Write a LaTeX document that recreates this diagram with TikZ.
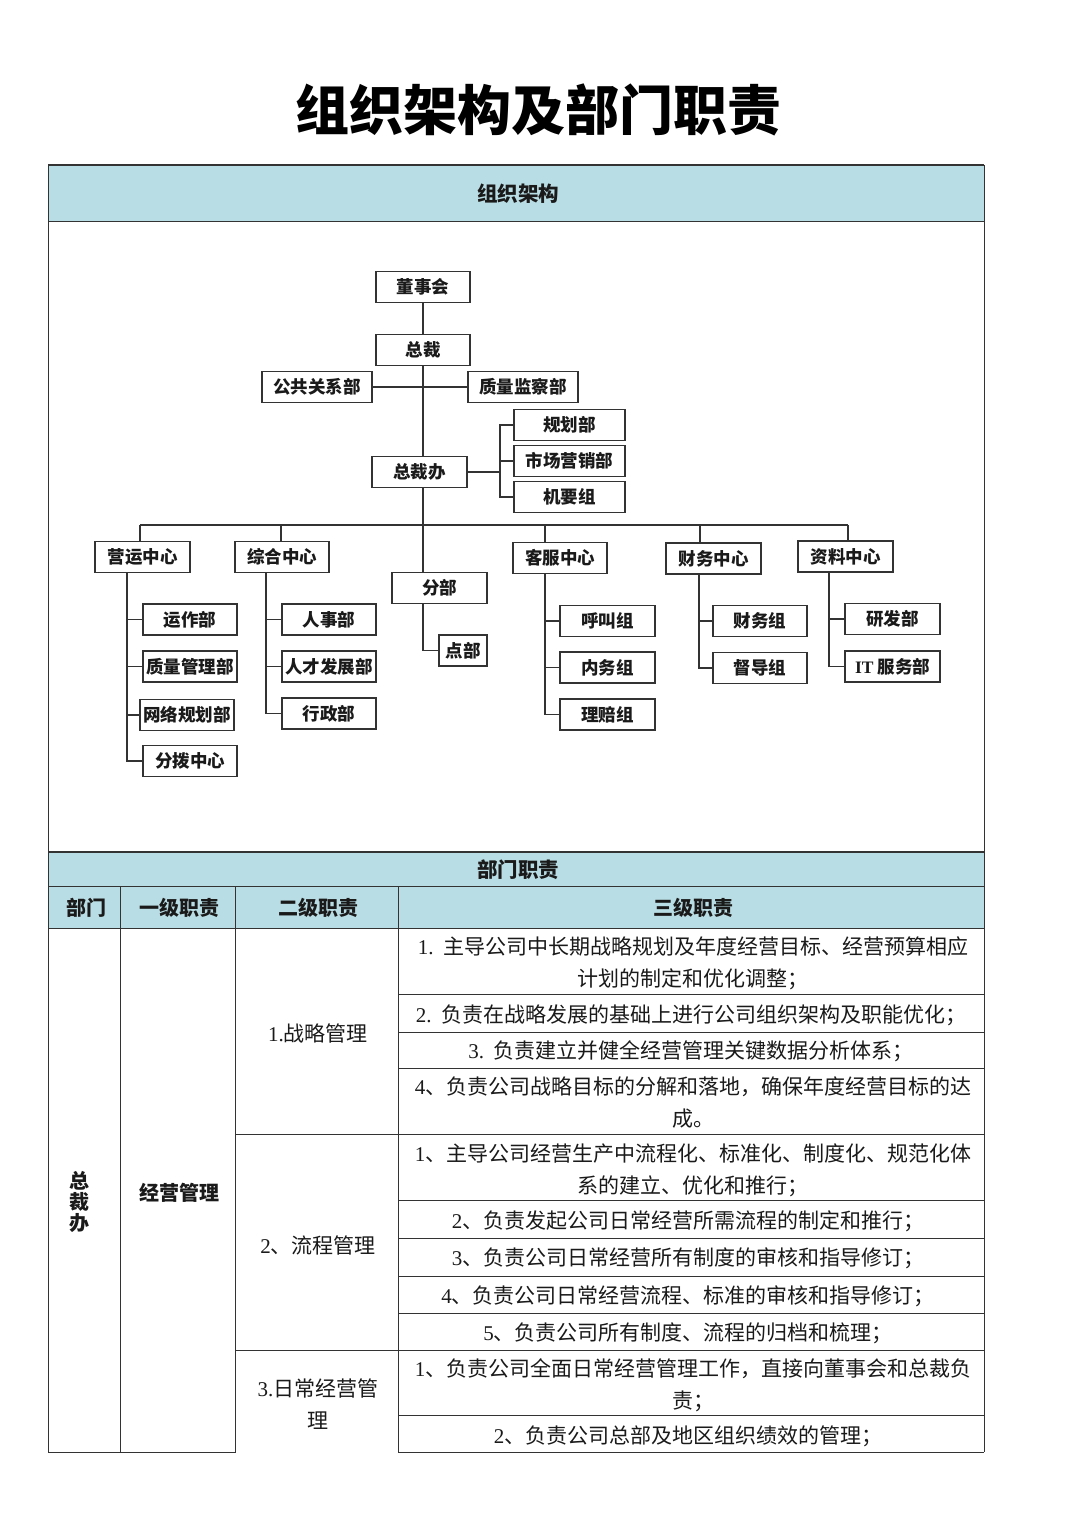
\documentclass[tikz,border=0pt]{standalone}
\usepackage{fontspec}
\setmainfont{Liberation Serif}
\newfontfamily\cjk{Noto Sans CJK SC}
\newcommand\nm[1]{{\rmfamily #1}}
\definecolor{hdr}{HTML}{B9DDE4}
\definecolor{ln}{HTML}{333333}
\definecolor{tx}{HTML}{1A1A1A}
\begin{document}
\begin{tikzpicture}[x=1pt,y=-1pt,
  ob/.style={draw=ln, line width=1.3pt, fill=white, minimum height=31pt, inner sep=0pt, text=tx, font=\cjk\bfseries\fontsize{17.5}{20}\selectfont},
  con/.style={draw=ln, line width=1.3pt},
  tl/.style={draw=ln, line width=1pt},
  body/.style={font=\cjk\fontsize{21}{32}\selectfont, align=center, text=tx},
  th/.style={font=\cjk\bfseries\fontsize{20}{24}\selectfont, text=tx}]
\useasboundingbox (0,0) rectangle (1080,1522);
\fill[white] (0,0) rectangle (1080,1522);

% title
\node[font=\cjk\bfseries\fontsize{54}{60}\selectfont, text=black] (title) at (538,110) {组织架构及部门职责};

% bands
\fill[hdr] (48,165) rectangle (984,222);
\fill[hdr] (48,852) rectangle (984,928);

% frame
\draw[ln, line width=1.6pt] (48,165) -- (984,165);
\draw[tl] (48,165) -- (48,1452);
\draw[tl] (984,165) -- (984,1452);
\draw[tl] (48,1452) -- (236,1452);
\draw[tl] (398,1452) -- (984,1452);
\draw[tl] (48,222) -- (984,222);
\draw[ln, line width=1.6pt] (48,852) -- (984,852);
\draw[tl] (48,886) -- (984,886);
\draw[tl] (48,928) -- (984,928);
\draw[tl] (120,886) -- (120,1452);
\draw[tl] (235,886) -- (235,1452);
\draw[tl] (398,886) -- (398,1452);
\draw[tl] (235,1134) -- (984,1134);
\draw[tl] (235,1350) -- (984,1350);
\foreach \yy in {994,1032,1068,1200,1238,1276,1313,1415}
  \draw[tl] (398,\yy) -- (984,\yy);

% band texts
\node[font=\cjk\bfseries\fontsize{20.5}{23}\selectfont, text=tx] (h1) at (518,194) {组织架构};
\node[font=\cjk\bfseries\fontsize{20.5}{23}\selectfont, text=tx] (h2) at (518,870) {部门职责};
\node[th] (c1) at (86,908) {部门};
\node[th] (c2) at (179,908) {一级职责};
\node[th] (c3) at (318,908) {二级职责};
\node[th] (c4) at (693,908) {三级职责};

% org chart
\node[ob,minimum width=94pt] (dsh) at (423,287) {董事会};
\node[ob,minimum width=94pt] (zc) at (423,350) {总裁};
\node[ob,minimum width=110pt] (ggx) at (317,387) {公共关系部};
\node[ob,minimum width=110pt] (zljc) at (523,387) {质量监察部};
\node[ob,minimum width=111pt] (ghb) at (569.5,425) {规划部};
\node[ob,minimum width=111pt] (scyx) at (569.5,461) {市场营销部};
\node[ob,minimum width=111pt] (jyz) at (569.5,497) {机要组};

\draw[con] (dsh.south) -- (zc.north);
\draw[con] (ggx.east) -- (zljc.west);
\coordinate (tr) at (423,525);
\coordinate (bk) at (500,472);
\draw[con] (zc.south) -- (tr) -- (tr |- 0,573);

\node[ob,minimum width=95pt] (zcb) at (419.5,472) {总裁办};
\draw[con] (zcb.east) -- (bk);
\draw[con] (ghb.west) -| (bk);
\draw[con] (jyz.west) -| (bk);
\draw[con] (scyx.west) -- (scyx.west -| bk);

\node[ob,minimum width=95pt] (yy) at (142.5,557) {营运中心};
\node[ob,minimum width=94pt] (zh) at (282,557) {综合中心};
\node[ob,minimum width=95pt] (fb) at (439.5,588) {分部};
\node[ob,minimum width=48pt] (dian) at (463,650.5) {点部};
\node[ob,minimum width=94pt] (kf) at (560,558) {客服中心};
\node[ob,minimum width=95pt] (cw) at (713.5,558.5) {财务中心};
\node[ob,minimum width=95pt] (zl) at (845.5,556.5) {资料中心};

\coordinate (b1) at (140,525);
\coordinate (b2) at (281,525);
\coordinate (b4) at (545,525);
\coordinate (b5) at (700,525);
\coordinate (b6) at (848,525);
\draw[con] (b1) -- (b6);
\draw[con] (b1) -- (b1 |- yy.north);
\draw[con] (b2) -- (b2 |- zh.north);
\draw[con] (b4) -- (b4 |- kf.north);
\draw[con] (b5) -- (b5 |- cw.north);
\draw[con] (b6) -- (b6 |- zl.north);
\draw[con] (tr |- fb.south) |- (dian.west);

% children
\node[ob,minimum width=94pt] (yzb) at (190,619.5) {运作部};
\node[ob,minimum width=94pt] (zlgl) at (190,666.5) {质量管理部};
\node[ob,minimum width=94pt] (wlgh) at (187,715) {网络规划部};
\node[ob,minimum width=94pt] (fbzx) at (190,761) {分拨中心};
\coordinate (v1) at (127,0);
\draw[con] (v1 |- yy.south) |- (fbzx.west);
\draw[con] (v1 |- yzb.west) -- (yzb.west);
\draw[con] (v1 |- zlgl.west) -- (zlgl.west);
\draw[con] (v1 |- wlgh.west) -- (wlgh.west);

\node[ob,minimum width=94pt] (rsb) at (329,619.5) {人事部};
\node[ob,minimum width=94pt] (rcfz) at (329,666.5) {人才发展部};
\node[ob,minimum width=94pt] (xzb) at (329,713.5) {行政部};
\coordinate (v2) at (266,0);
\draw[con] (v2 |- zh.south) |- (xzb.west);
\draw[con] (v2 |- rsb.west) -- (rsb.west);
\draw[con] (v2 |- rcfz.west) -- (rcfz.west);

\node[ob,minimum width=95pt] (hjz) at (607.5,621) {呼叫组};
\node[ob,minimum width=95pt] (nwz) at (607.5,667.5) {内务组};
\node[ob,minimum width=95pt] (lpz) at (607.5,714.5) {理赔组};
\coordinate (v4) at (545,0);
\draw[con] (v4 |- kf.south) |- (lpz.west);
\draw[con] (v4 |- hjz.west) -- (hjz.west);
\draw[con] (v4 |- nwz.west) -- (nwz.west);

\node[ob,minimum width=94pt] (cwz) at (760,621) {财务组};
\node[ob,minimum width=94pt] (ddz) at (760,668) {督导组};
\coordinate (v5) at (699,0);
\draw[con] (v5 |- cw.south) |- (ddz.west);
\draw[con] (v5 |- cwz.west) -- (cwz.west);

\node[ob,minimum width=95pt] (yfb) at (892.5,619) {研发部};
\node[ob,minimum width=95pt] (itb) at (892.5,666.5) {\nm{\bfseries IT} 服务部};
\coordinate (v6) at (829,0);
\draw[con] (v6 |- zl.south) |- (itb.west);
\draw[con] (v6 |- yfb.west) -- (yfb.west);

% table texts
\node[font=\cjk\bfseries\fontsize{20}{21}\selectfont, align=center, text=tx] (dept) at (79,1202) {总\\裁\\办};
\node[font=\cjk\bfseries\fontsize{20}{24}\selectfont, text=tx] (l1) at (179,1193) {经营管理};
\node[body] (l21) at (318,1033) {\nm{1.}战略管理};
\node[body] (l22) at (318,1245) {\nm{2}、流程管理};
\node[body] (l23) at (318,1404) {\nm{3.}日常经营管\\理};

\node[body] (r1) at (693,963) {\nm{1.}\ \ 主导公司中长期战略规划及年度经营目标、经营预算相应\\计划的制定和优化调整；};
\node[body] (r2) at (691,1015) {\nm{2.}\ \ 负责在战略发展的基础上进行公司组织架构及职能优化；};
\node[body] (r3) at (691,1051) {\nm{3.}\ \ 负责建立并健全经营管理关键数据分析体系；};
\node[body] (r4) at (693,1103) {\nm{4}、负责公司战略目标的分解和落地，确保年度经营目标的达\\成。};
\node[body] (r5) at (693,1170) {\nm{1}、主导公司经营生产中流程化、标准化、制度化、规范化体\\系的建立、优化和推行；};
\node[body] (r6) at (688,1221) {\nm{2}、负责发起公司日常经营所需流程的制定和推行；};
\node[body] (r7) at (688,1258) {\nm{3}、负责公司日常经营所有制度的审核和指导修订；};
\node[body] (r8) at (688,1296) {\nm{4}、负责公司日常经营流程、标准的审核和指导修订；};
\node[body] (r9) at (688,1333) {\nm{5}、负责公司所有制度、流程的归档和梳理；};
\node[body] (r10) at (693,1385) {\nm{1}、负责公司全面日常经营管理工作，直接向董事会和总裁负\\责；};
\node[body] (r11) at (688,1436) {\nm{2}、负责公司总部及地区组织绩效的管理；};
\end{tikzpicture}
\end{document}
